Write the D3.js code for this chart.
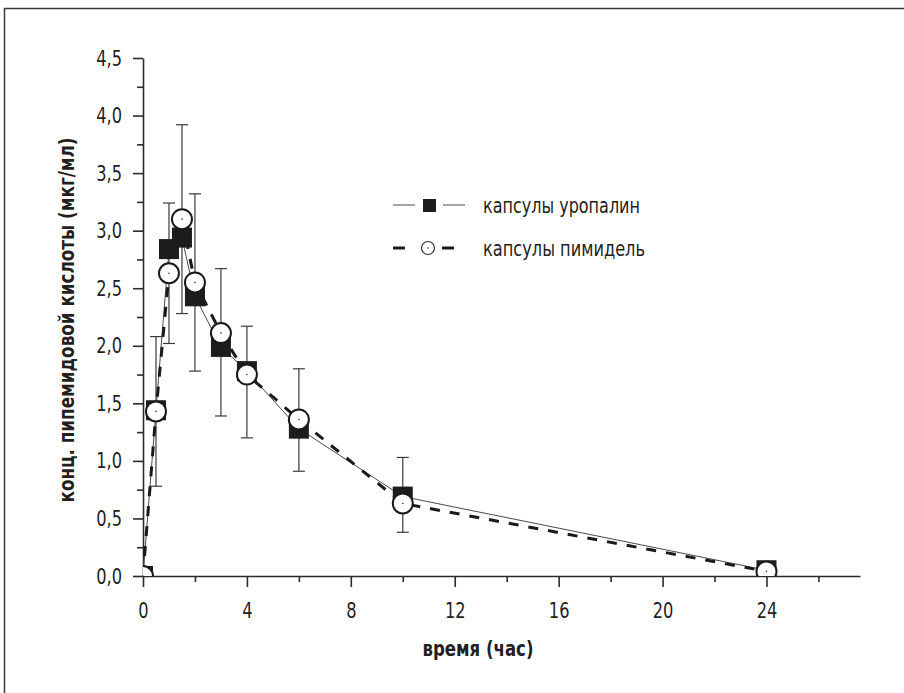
<!DOCTYPE html>
<html>
<head>
<meta charset="utf-8">
<script src="https://cdn.jsdelivr.net/npm/d3@7"></script>
<style>
  body { margin: 0; background: #fff; }
  text { font-family: "Liberation Sans Narrow", "DejaVu Sans Condensed", "Roboto Condensed", "Liberation Sans", sans-serif; fill: #231f20; }
</style>
</head>
<body>
<div id="chart"></div>
<script>
// data
var times = [0, 0.5, 1, 1.5, 2, 3, 4, 6, 10, 24];
var uropalin = [0, 1.44, 2.84, 2.94, 2.43, 1.99, 1.78, 1.28, 0.69, 0.05];
var pimidel = [0, 1.43, 2.63, 3.10, 2.55, 2.11, 1.75, 1.36, 0.63, 0.04];
var errUpper = [0, 2.08, 3.24, 3.92, 3.32, 2.67, 2.17, 1.80, 1.03, 0.07];
var errLower = [0, 0.78, 2.02, 2.28, 1.78, 1.39, 1.20, 0.91, 0.38, 0.01];
var xTicks = [0, 4, 8, 12, 16, 20, 24];
var yTicks = [0, 0.5, 1, 1.5, 2, 2.5, 3, 3.5, 4, 4.5];
var legendLabels = ["капсулы уропалин", "капсулы пимидель"];

var W = 904, H = 693;

var svg = d3.select("#chart")
  .append("svg")
    .attr("width", W)
    .attr("height", H);

// squeeze text to look like the condensed face of the original
function condense(sel, k) {
  sel.each(function() {
    var w = this.getComputedTextLength();
    this.setAttribute("textLength", w * k);
    this.setAttribute("lengthAdjust", "spacingAndGlyphs");
  });
}
function fitTo(sel, w) {
  sel.attr("textLength", w).attr("lengthAdjust", "spacingAndGlyphs");
}

// outer frame
svg.append("rect")
    .attr("x", 4.5).attr("y", 8.5)
    .attr("width", W + 20).attr("height", H + 20)
    .attr("fill", "none")
    .attr("stroke", "#3a3a3a")
    .attr("stroke-width", 1.5);

var x = d3.scaleLinear().domain([0, 27.6]).range([143, 860]);
var y = d3.scaleLinear().domain([0, 4.5]).range([576, 58]);

var fmt = function(d) { return d3.format(".1f")(d).replace(".", ","); };

// X axis
svg.append("g")
    .attr("transform", "translate(0," + y(0) + ")")
    .call(d3.axisBottom(x).tickValues(xTicks).tickSize(11).tickSizeOuter(0).tickPadding(15));
svg.append("g")
    .attr("transform", "translate(0," + y(0) + ")")
    .call(d3.axisBottom(x).tickValues(d3.range(2, 27, 4)).tickSize(6).tickSizeOuter(0).tickFormat(""))
    .select(".domain").remove();

// Y axis
svg.append("g")
    .attr("transform", "translate(" + x(0) + ",0)")
    .call(d3.axisLeft(y).tickValues(yTicks).tickSize(10).tickSizeOuter(0).tickPadding(11).tickFormat(fmt));
svg.append("g")
    .attr("transform", "translate(" + x(0) + ",0)")
    .call(d3.axisLeft(y).tickValues(d3.range(0.25, 4.5, 0.5)).tickSize(6).tickSizeOuter(0).tickFormat(""))
    .select(".domain").remove();

svg.selectAll(".domain, .tick line")
    .attr("stroke", "#2b2b2b")
    .attr("stroke-width", 1.6);
svg.selectAll(".tick text")
    .attr("font-size", 22)
    .attr("font-family", null)
    .attr("fill", "#231f20")
    .call(condense, 0.82);

// axis titles
svg.append("text")
    .attr("x", 478).attr("y", 656)
    .attr("text-anchor", "middle")
    .attr("font-size", 22)
    .attr("font-weight", "bold")
    .text("время (час)")
    .call(fitTo, 111);

svg.append("text")
    .attr("transform", "translate(74,320) rotate(-90)")
    .attr("text-anchor", "middle")
    .attr("font-size", 22)
    .attr("font-weight", "bold")
    .text("конц. пипемидовой кислоты (мкг/мл)")
    .call(fitTo, 365);

// clip for markers at the axes
svg.append("clipPath").attr("id", "plotclip")
  .append("rect")
    .attr("x", x(0)).attr("y", y(4.5))
    .attr("width", x(27.6) - x(0)).attr("height", y(0) - y(4.5));

var rows = times.map(function(t, i) {
  return {t: t, a: uropalin[i], b: pimidel[i], hi: errUpper[i], lo: errLower[i]};
});

var plot = svg.append("g").attr("clip-path", "url(#plotclip)");

// error bars
var eb = plot.selectAll(".err")
  .data(rows.filter(function(d) { return d.t > 0; }))
  .enter().append("g").attr("class", "err")
    .attr("stroke", "#3a3a3a")
    .attr("stroke-width", 1.2);
eb.append("line")
    .attr("x1", function(d) { return x(d.t); })
    .attr("x2", function(d) { return x(d.t); })
    .attr("y1", function(d) { return y(d.hi); })
    .attr("y2", function(d) { return y(d.lo); });
eb.append("line")
    .attr("x1", function(d) { return x(d.t) - 6; })
    .attr("x2", function(d) { return x(d.t) + 6; })
    .attr("y1", function(d) { return y(d.hi); })
    .attr("y2", function(d) { return y(d.hi); });
eb.append("line")
    .attr("x1", function(d) { return x(d.t) - 6; })
    .attr("x2", function(d) { return x(d.t) + 6; })
    .attr("y1", function(d) { return y(d.lo); })
    .attr("y2", function(d) { return y(d.lo); });

// lines
plot.append("path")
    .datum(rows)
    .attr("fill", "none")
    .attr("stroke", "#4a4a4a")
    .attr("stroke-width", 1)
    .attr("d", d3.line().x(function(d) { return x(d.t); }).y(function(d) { return y(d.a); }));

plot.append("path")
    .datum(rows)
    .attr("fill", "none")
    .attr("stroke", "#1a1a1a")
    .attr("stroke-width", 3)
    .attr("stroke-dasharray", "10,10")
    .attr("d", d3.line().x(function(d) { return x(d.t); }).y(function(d) { return y(d.b); }));

// squares
plot.selectAll(".sq")
  .data(rows)
  .enter().append("rect")
    .attr("class", "sq")
    .attr("x", function(d) { return x(d.t) - 10; })
    .attr("y", function(d) { return y(d.a) - 10; })
    .attr("width", 20).attr("height", 20)
    .attr("fill", "#1e1c1c");

// circles
plot.selectAll(".ci")
  .data(rows)
  .enter().append("circle")
    .attr("class", "ci")
    .attr("cx", function(d) { return x(d.t); })
    .attr("cy", function(d) { return y(d.b); })
    .attr("r", 10)
    .attr("fill", "#fff")
    .attr("stroke", "#1a1a1a")
    .attr("stroke-width", 2);
plot.selectAll(".dot")
  .data(rows)
  .enter().append("circle")
    .attr("class", "dot")
    .attr("cx", function(d) { return x(d.t); })
    .attr("cy", function(d) { return y(d.b); })
    .attr("r", 0.8)
    .attr("fill", "#333");

// legend
var lg = svg.append("g");
lg.append("line").attr("x1", 393).attr("x2", 415).attr("y1", 205).attr("y2", 205)
    .attr("stroke", "#4a4a4a").attr("stroke-width", 1);
lg.append("rect").attr("x", 423).attr("y", 199).attr("width", 13).attr("height", 13)
    .attr("fill", "#1e1c1c");
lg.append("line").attr("x1", 443).attr("x2", 465).attr("y1", 205).attr("y2", 205)
    .attr("stroke", "#4a4a4a").attr("stroke-width", 1);

lg.append("line").attr("x1", 393).attr("x2", 405).attr("y1", 248).attr("y2", 248)
    .attr("stroke", "#1a1a1a").attr("stroke-width", 3);
lg.append("circle").attr("cx", 428).attr("cy", 248).attr("r", 6.5)
    .attr("fill", "#fff").attr("stroke", "#333").attr("stroke-width", 1.2);
lg.append("circle").attr("cx", 428).attr("cy", 248).attr("r", 0.8).attr("fill", "#333");
lg.append("line").attr("x1", 442).attr("x2", 454).attr("y1", 248).attr("y2", 248)
    .attr("stroke", "#1a1a1a").attr("stroke-width", 3);

var legendWidths = [157, 162];
lg.selectAll(".lt")
  .data(legendLabels)
  .enter().append("text")
    .attr("class", "lt")
    .attr("x", 483)
    .attr("y", function(d, i) { return 213 + i * 43; })
    .attr("font-size", 22)
    .attr("textLength", function(d, i) { return legendWidths[i]; })
    .attr("lengthAdjust", "spacingAndGlyphs")
    .text(function(d) { return d; });
</script>
</body>
</html>
